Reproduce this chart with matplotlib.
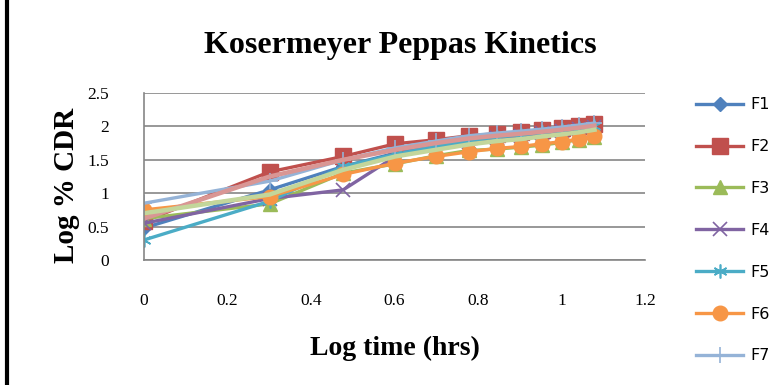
import matplotlib.pyplot as plt
from matplotlib.patches import Rectangle

# log time (hrs) for 1..12 h
log_time = [0, 0.301, 0.477, 0.602, 0.699, 0.778, 0.845, 0.903, 0.954, 1.0, 1.041, 1.079]

F1 = [0.48, 1.05, 1.40, 1.60, 1.72, 1.80, 1.85, 1.88, 1.92, 1.95, 1.98, 2.01]
F2 = [0.58, 1.32, 1.55, 1.74, 1.80, 1.86, 1.89, 1.91, 1.94, 1.97, 2.00, 2.03]
F3 = [0.62, 0.84, 1.30, 1.44, 1.56, 1.64, 1.66, 1.69, 1.72, 1.76, 1.80, 1.84]
F4 = [0.55, 0.92, 1.05, 1.55, 1.68, 1.76, 1.82, 1.86, 1.90, 1.93, 1.96, 1.99]
F5 = [0.30, 0.88, 1.40, 1.58, 1.70, 1.78, 1.84, 1.87, 1.91, 1.94, 1.97, 2.00]
F6 = [0.75, 0.95, 1.28, 1.45, 1.55, 1.62, 1.67, 1.70, 1.74, 1.77, 1.81, 1.85]
F7 = [0.85, 1.18, 1.50, 1.68, 1.78, 1.86, 1.90, 1.93, 1.96, 1.99, 2.02, 2.05]
F8 = [0.62, 1.25, 1.50, 1.65, 1.75, 1.82, 1.86, 1.89, 1.92, 1.95, 1.98, 2.01]
F9 = [0.70, 0.98, 1.35, 1.55, 1.65, 1.73, 1.78, 1.81, 1.85, 1.88, 1.91, 1.95]

x_ticks = [0, 0.2, 0.4, 0.6, 0.8, 1, 1.2]
y_ticks = [0, 0.5, 1, 1.5, 2, 2.5]

fig = plt.figure(figsize=(7.84, 3.85), dpi=100)
ax = fig.add_axes([144 / 784, 1 - 260 / 385, 501 / 784, 167 / 385])

serif = "Liberation Serif"
lw = 2.4

ax.plot(log_time, F1, color="#4F81BD", lw=lw, marker="D", ms=7.5, label="F1")
ax.plot(log_time, F2, color="#C0504D", lw=lw, marker="s", ms=11, label="F2")
ax.plot(log_time, F3, color="#9BBB59", lw=lw, marker="^", ms=10, label="F3")
ax.plot(log_time, F4, color="#8064A2", lw=lw, marker="x", ms=10, mew=1.2, label="F4")
ax.plot(log_time, F5, color="#4BACC6", lw=lw, marker=(6, 2, 0), ms=10, mew=1.2, label="F5")
ax.plot(log_time, F6, color="#F79646", lw=lw, marker="o", ms=10.5, label="F6")
ax.plot(log_time, F7, color="#95B3D7", lw=lw, marker="+", ms=11, mew=1.2, label="F7")
ax.plot(log_time, F8, color="#D99694", lw=lw + 0.8)
ax.plot(log_time, F9, color="#C3D69B", lw=lw + 0.8)

ax.set_xlim(0, 1.2)
ax.set_ylim(0, 2.5)
ax.set_xticks(x_ticks)
ax.set_xticklabels(["0", "0.2", "0.4", "0.6", "0.8", "1", "1.2"])
ax.set_yticks(y_ticks)
ax.set_yticklabels(["0", "0.5", "1", "1.5", "2", "2.5"])
ax.tick_params(length=0, labelsize=12.5)
ax.tick_params(axis="x", pad=24)
ax.tick_params(axis="y", pad=25)
for lab in ax.get_xticklabels() + ax.get_yticklabels():
    lab.set_fontfamily(serif)

ax.grid(axis="y", color="#868686", lw=1.2)
ax.set_axisbelow(True)
for s in ["top", "right"]:
    ax.spines[s].set_visible(False)
for s in ["left", "bottom"]:
    ax.spines[s].set_color("#868686")
    ax.spines[s].set_linewidth(1.2)

fig.text(0.51, 1 - 45 / 385, "Kosermeyer Peppas Kinetics", ha="center", va="center",
         fontsize=23, fontweight="bold", family=serif)
fig.text(395 / 784, 1 - 348 / 385, "Log time (hrs)", ha="center", va="center",
         fontsize=20, fontweight="bold", family=serif)
fig.text(67 / 784, 1 - 185 / 385, "Log % CDR", ha="center", va="center", rotation=90,
         fontsize=21, fontweight="bold", family=serif)

ax.legend(loc="upper left", bbox_to_anchor=(690 / 784, 1 - 91 / 385),
          bbox_transform=fig.transFigure, frameon=False, fontsize=11.5,
          handlelength=2.9, handletextpad=0.45, labelspacing=1.68, borderaxespad=0)

# outer chart border (cut at right and bottom)
fig.add_artist(Rectangle((7 / 784, -0.2), 1.5, 1.2 + 1 - 8.5 / 385, transform=fig.transFigure,
                         fill=False, ec="black", lw=3))

fig.savefig("out.png", dpi=100)
